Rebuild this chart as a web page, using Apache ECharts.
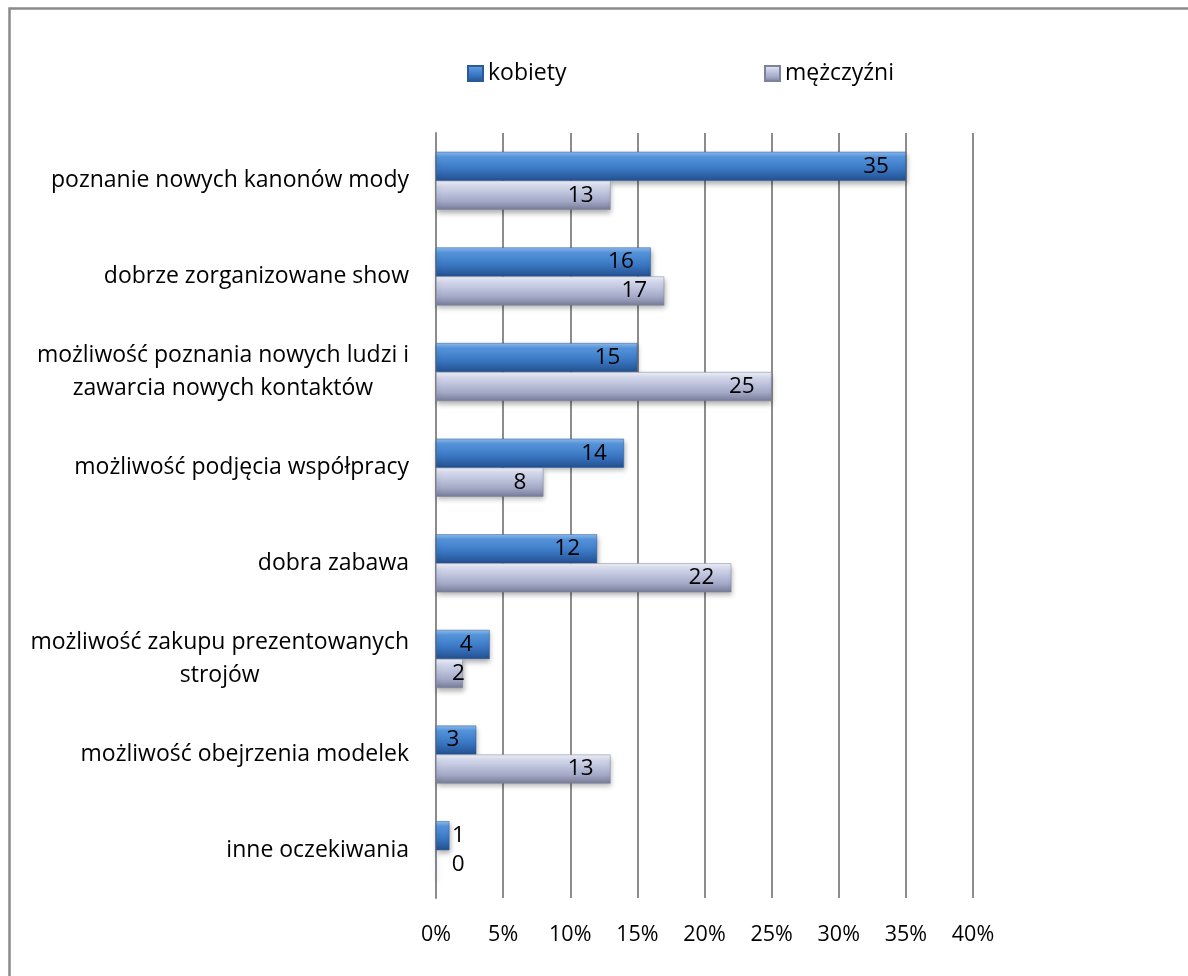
<!DOCTYPE html>
<html>
<head>
<meta charset="utf-8">
<script src="https://cdn.jsdelivr.net/npm/echarts@6/dist/echarts.min.js"></script>
<style>
  html, body { margin: 0; padding: 0; background: #fff; }
  #chart { width: 1188px; height: 976px; }
</style>
</head>
<body>
<div id="chart"></div>
<script>
// Oczekiwania wobec pokazu mody (% odpowiedzi)
const categories = [
  'poznanie nowych kanonów mody',
  'dobrze zorganizowane show',
  'możliwość poznania nowych ludzi i\nzawarcia nowych kontaktów',
  'możliwość podjęcia współpracy',
  'dobra zabawa',
  'możliwość zakupu prezentowanych\nstrojów',
  'możliwość obejrzenia modelek',
  'inne oczekiwania'
];
const kobiety = [35, 16, 15, 14, 12, 4, 3, 1];
const mezczyzni = [13, 17, 25, 8, 22, 2, 13, 0];
const seriesNames = ['kobiety', 'mężczyźni'];
const xTicks = [0, 5, 10, 15, 20, 25, 30, 35, 40];

const FONT = '"Open Sans", sans-serif';
const FS_CAT = 23;
const FS_AXIS = 21.5;
const FS_VAL = 22.5;
const FS_LEG = 23;

const blueFill = new echarts.graphic.LinearGradient(0, 0, 0, 1, [
  { offset: 0, color: '#8fbdf0' },
  { offset: 0.18, color: '#5595dc' },
  { offset: 0.6, color: '#3a76c2' },
  { offset: 1, color: '#23508f' }
]);
const greyFill = new echarts.graphic.LinearGradient(0, 0, 0, 1, [
  { offset: 0, color: '#f0f2fb' },
  { offset: 0.25, color: '#cdd2e8' },
  { offset: 0.7, color: '#a3a9c6' },
  { offset: 1, color: '#767c98' }
]);

// bars too short for an inside number get it just past the axis
function withLabels(values) {
  return values.map(v => v <= 2
    ? { value: v, label: { position: [16, '50%'], align: 'left', verticalAlign: 'middle' } }
    : { value: v });
}

const chart = echarts.init(document.getElementById('chart'), null, { renderer: 'canvas' });

const legendText = { fontFamily: FONT, fontSize: FS_LEG, color: '#000' };

const option = {
  backgroundColor: '#ffffff',
  animation: false,
  textStyle: { fontFamily: FONT, color: '#000' },
  graphic: [{
    type: 'rect',
    shape: { x: 9.5, y: 8.5, width: 1300, height: 1100 },
    style: { fill: 'none', stroke: '#8a8a8a', lineWidth: 2.5 },
    silent: true, z: 0
  }],
  legend: [{
    data: [seriesNames[0]],
    left: 462, top: 57,
    itemWidth: 15, itemHeight: 15, itemGap: 6,
    icon: 'rect',
    textStyle: legendText
  }, {
    data: [seriesNames[1]],
    left: 759, top: 57,
    itemWidth: 15, itemHeight: 15, itemGap: 6,
    icon: 'rect',
    textStyle: legendText
  }],
  grid: { left: 436, right: 215, top: 133, bottom: 78, containLabel: false },
  xAxis: {
    type: 'value',
    min: 0, max: 40, interval: 5,
    axisLine: { show: false },
    axisTick: { show: false },
    axisLabel: {
      margin: 26,
      fontFamily: FONT, fontSize: FS_AXIS, color: '#000',
      formatter: v => xTicks.includes(v) ? v + '%' : ''
    },
    splitLine: { show: true, lineStyle: { color: '#8c8c8c', width: 2 } }
  },
  yAxis: {
    type: 'category',
    data: categories,
    inverse: true,
    axisLine: { show: true, lineStyle: { color: '#8c8c8c', width: 2 } },
    axisTick: { show: false },
    axisLabel: {
      margin: 27,
      fontFamily: FONT, fontSize: FS_CAT, color: '#000',
      lineHeight: 33,
      formatter: s => s.split('\n').map(l => '{c|' + l + '}').join('\n'),
      rich: { c: { align: 'center', fontFamily: FONT, fontSize: FS_CAT, lineHeight: 33, color: '#000' } }
    }
  },
  series: [{
    name: seriesNames[0],
    type: 'bar',
    data: withLabels(kobiety),
    barWidth: 29,
    barGap: '0%',
    barCategoryGap: '39%',
    itemStyle: {
      color: blueFill,
      borderColor: '#2a5a98', borderWidth: 0.5,
      shadowColor: 'rgba(0,0,0,0.3)', shadowBlur: 5, shadowOffsetY: 3, shadowOffsetX: 1
    },
    label: {
      show: true, position: 'insideRight', distance: 17,
      fontFamily: FONT, fontSize: FS_VAL, color: '#000'
    }
  }, {
    name: seriesNames[1],
    type: 'bar',
    data: withLabels(mezczyzni),
    barWidth: 29,
    itemStyle: {
      color: greyFill,
      borderColor: '#7c8299', borderWidth: 0.5,
      shadowColor: 'rgba(0,0,0,0.3)', shadowBlur: 5, shadowOffsetY: 3, shadowOffsetX: 1
    },
    label: {
      show: true, position: 'insideRight', distance: 17,
      fontFamily: FONT, fontSize: FS_VAL, color: '#000'
    }
  }]
};

chart.setOption(option);
</script>
</body>
</html>
